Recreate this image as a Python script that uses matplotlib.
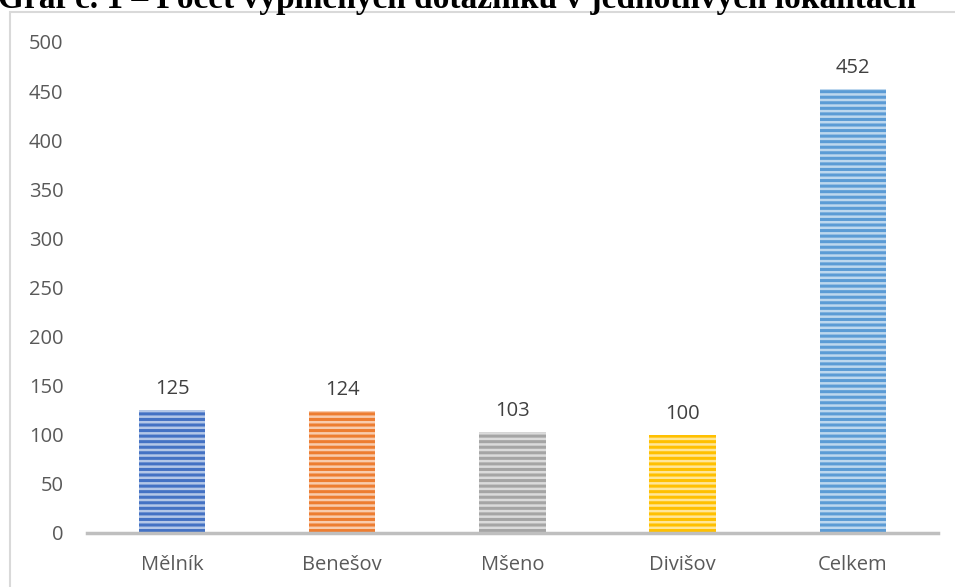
import matplotlib.pyplot as plt
from matplotlib.patches import Rectangle
from matplotlib.colors import to_rgb

# počty vyplněných dotazníků podle lokality
lokality = ['Mělník', 'Benešov', 'Mšeno', 'Divišov', 'Celkem']
pocty = [125, 124, 103, 100, 452]
barvy = ['#4472C4', '#ED7D31', '#A5A5A5', '#FFC000', '#5B9BD5']
y_ticky = [0, 50, 100, 150, 200, 250, 300, 350, 400, 450, 500]

plt.rcParams['font.family'] = ['Open Sans', 'DejaVu Sans']
plt.rcParams['hatch.linewidth'] = 2.2


def zesvetlit(barva, podil=0.6):
    r, g, b = to_rgb(barva)
    return (r + (1 - r) * podil, g + (1 - g) * podil, b + (1 - b) * podil)


fig = plt.figure(figsize=(9.55, 5.87), dpi=100)
ax = fig.add_axes([0.0911, 0.092, 0.891, 0.8365])

x = range(len(lokality))
for i, (hodnota, barva) in enumerate(zip(pocty, barvy)):
    ax.bar(i, hodnota, width=0.39, color=zesvetlit(barva), edgecolor=barva,
           hatch='---', linewidth=0)
    ax.annotate(str(hodnota), (i, hodnota), xytext=(0, 8), textcoords='offset points',
                ha='center', va='bottom', fontsize=14.5, color='#404040')

ax.set_xlim(-0.5, len(lokality) - 0.5)
ax.set_ylim(0, 500)
ax.set_yticks(y_ticky)
ax.set_xticks(list(x))
ax.set_xticklabels(lokality)
ax.tick_params(axis='both', length=0, labelsize=14.5, labelcolor='#595959')
ax.tick_params(axis='y', pad=17)
ax.tick_params(axis='x', pad=16)

for s in ['top', 'right', 'left']:
    ax.spines[s].set_visible(False)
ax.spines['bottom'].set_color('#BFBFBF')
ax.spines['bottom'].set_linewidth(2.5)

# rámeček grafu
fig.patches.append(Rectangle((10 / 955, -0.05), 1.0, 1 - 12 / 587 + 0.05,
                             transform=fig.transFigure, fill=False,
                             edgecolor='#D9D9D9', linewidth=1.5))

fig.text(0.478, 1 - 8 / 587, 'Graf č. 1 – Počet vyplněných dotazníků v jednotlivých lokalitách',
         ha='center', va='baseline', fontsize=24, fontweight='bold',
         family='Liberation Serif')

fig.savefig('out.png', dpi=100)
